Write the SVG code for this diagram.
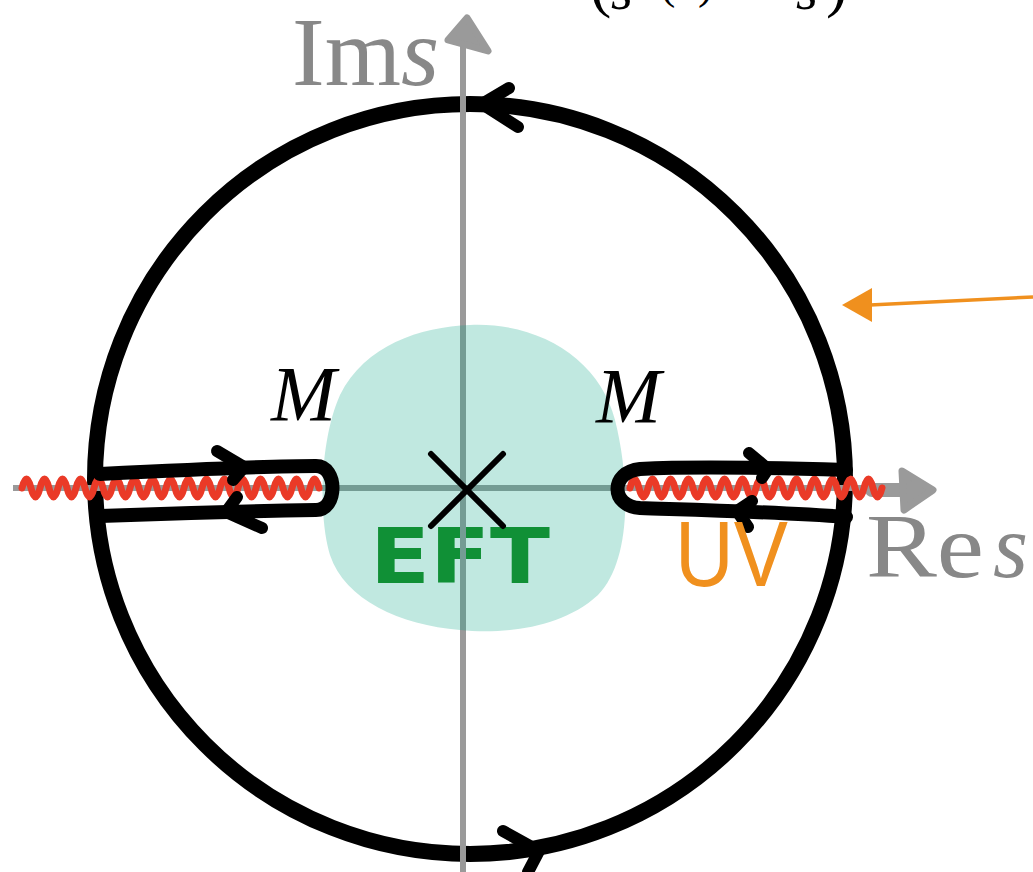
<svg xmlns="http://www.w3.org/2000/svg" width="1033" height="872" viewBox="0 0 1033 872">
<style>
.ax{stroke:#9a9a9a;stroke-width:6;fill:none}
.axh{fill:#9a9a9a;stroke:#9a9a9a;stroke-width:7;stroke-linejoin:round}
.blk{stroke:#000;fill:none;stroke-linecap:round;stroke-linejoin:round}
.red{stroke:#ea3a27;stroke-width:7;fill:none;stroke-linecap:round}
.lbl{font-family:"Liberation Serif","DejaVu Serif",serif}
.it{font-style:italic}
</style>
<rect width="1033" height="872" fill="#fff"/>
<g id="top-formula" class="lbl" fill="#000">
  <text x="590" y="5" font-size="64">(</text>
  <text x="611" y="9" font-size="56" class="it">s</text>
  <text x="660" y="-2" font-size="46">(</text>
  <text x="698" y="-2" font-size="46">)</text>
  <text x="730" y="-8" font-size="56">−</text>
  <text x="796" y="9" font-size="56" class="it">s</text>
  <text x="826" y="5" font-size="64">)</text>
</g>
<g id="contour-circle">
  <circle cx="470" cy="479" r="375" class="blk" stroke-width="16"/>
</g>
<g id="eft-label">
  <text x="370" y="583" font-family="'DejaVu Sans','Liberation Sans',sans-serif" font-weight="bold" font-size="76" fill="#148a1c" textLength="180" lengthAdjust="spacingAndGlyphs">EFT</text>
</g>
<g id="axes">
  <line x1="13" y1="488" x2="905" y2="488" class="ax"/>
  <line x1="463" y1="872" x2="463" y2="35" class="ax"/>
  <line x1="872" y1="490" x2="903" y2="490" stroke="#9a9a9a" stroke-width="14" stroke-linecap="round"/>
  <polygon points="902,471 933,490 904,510" class="axh"/>
  <polygon points="467,18 488,51 448,40" class="axh"/>
</g>
<g id="eft-region">
  <path d="M470,325 C540,322 600,360 615,420 C630,480 632,560 598,595 C560,630 500,634 460,630 C400,625 345,600 330,555 C318,515 320,440 340,395 C365,345 420,327 470,325 Z" fill="#03a383" fill-opacity="0.25"/>
</g>
<g id="pole">
  <path d="M431,454 L503,526 M503,454 L431,526" class="blk" stroke-width="6"/>
</g>
<g id="branch-cuts">
  <path class="red" d="M22,488 q4.5,-18 9,0 t9,0 t9,0 t9,0 t9,0 t9,0 t9,0 t9,0 t9,0 t9,0 t9,0 t9,0 t9,0 t9,0 t9,0 t9,0 t9,0 t9,0 t9,0 t9,0 t9,0 t9,0 t9,0 t9,0 t9,0 t9,0 t9,0 t9,0 t9,0 t9,0 t9,0 t9,0 t9,0"/>
  <path class="red" d="M630,488 q4.5,-18 9,0 t9,0 t9,0 t9,0 t9,0 t9,0 t9,0 t9,0 t9,0 t9,0 t9,0 t9,0 t9,0 t9,0 t9,0 t9,0 t9,0 t9,0 t9,0 t9,0 t9,0 t9,0 t9,0 t9,0 t9,0 t9,0 t9,0 t9,0"/>
</g>
<g id="contour-branches">
  <path class="blk" stroke-width="14" d="M100,474 C180,470 260,466 316,466 C338,466 338,510 316,510 C260,511 180,513 100,516"/>
  <path class="blk" stroke-width="14" d="M846,470 C780,468 700,466 640,469 C610,472 610,506 640,508 C700,510 780,512 846,517"/>
</g>
<g id="contour-arrows" class="blk" stroke-width="12">
  <path d="M509,88 L482,104 L518,127"/>
  <path d="M503,831 L539,851 L528,872"/>
  <path d="M217,451 L244,467 L233,480"/>
  <path d="M237,497 L226,512 L262,528"/>
  <path d="M749,453 L768,469 L762,478"/>
  <path d="M752,501 L737,511 L748,527"/>
</g>
<g id="uv-label">
  <text x="675" y="586" font-family="'Liberation Sans','DejaVu Sans',sans-serif" font-size="92" fill="#f0901e" textLength="113" lengthAdjust="spacingAndGlyphs">UV</text>
</g>
<g id="orange-arrow">
  <line x1="870" y1="305" x2="1033" y2="297" stroke="#f0901e" stroke-width="3.5"/>
  <polygon points="842,305 872,288 872,322" fill="#f0901e"/>
</g>
<g id="axis-labels" class="lbl" fill="#888">
  <text x="292" y="85" font-size="98">Im<tspan class="it">s</tspan></text>
  <text x="866" y="577" font-size="90" textLength="118" lengthAdjust="spacingAndGlyphs">Re</text>
  <text x="993" y="577" font-size="90" class="it">s</text>
</g>
<g id="mass-labels" class="lbl it" fill="#000">
  <text x="271" y="420" font-size="78">M</text>
  <text x="596" y="422" font-size="78">M</text>
</g>
</svg>
